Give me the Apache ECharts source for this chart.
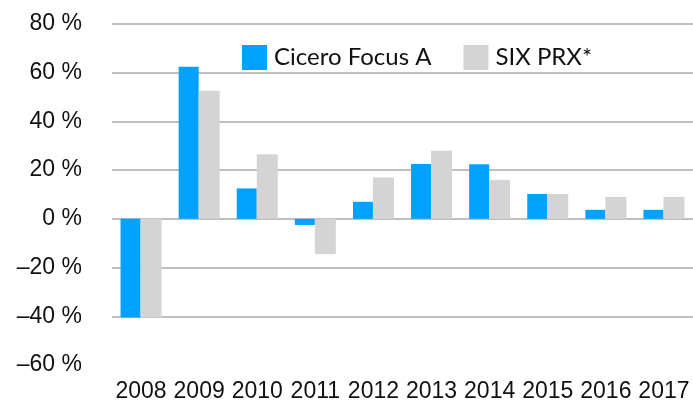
<!DOCTYPE html>
<html>
<head>
<meta charset="utf-8">
<script src="https://cdn.jsdelivr.net/npm/echarts@6/dist/echarts.min.js"></script>
<style>
  html, body { margin: 0; padding: 0; background: #fff; }
  #chart { width: 693px; height: 403px; }
</style>
</head>
<body>
<div id="chart"></div>
<script>
var years = ['2008', '2009', '2010', '2011', '2012', '2013', '2014', '2015', '2016', '2017'];
var cicero = [-40.5, 62.4, 12.5, -2.5, 7, 22.5, 22.4, 10.2, 3.7, 3.7];
var sixPrx = [-40.5, 52.6, 26.5, -14.5, 17, 28, 16, 10.2, 9, 9];

var myChart = echarts.init(document.getElementById('chart'));

var options = {
    animation: false,
    grid: { left: 112, right: 0, top: 24, bottom: 33 },
    legend: {
        top: 40,
        left: 237,
        itemWidth: 25,
        itemHeight: 25,
        itemGap: 32,
        icon: 'rect',
        textStyle: { fontFamily: 'Lato', fontSize: 24, color: '#111', padding: [0, 0, 0, 2] },
        data: ['Cicero Focus A', 'SIX PRX*']
    },
    xAxis: {
        type: 'category',
        data: years,
        axisLine: { show: false, onZero: false },
        axisTick: { show: false },
        axisLabel: { fontFamily: 'Liberation Sans', fontSize: 23, color: '#111', margin: 15, interval: 0 }
    },
    yAxis: {
        type: 'value',
        min: -60,
        max: 80,
        interval: 20,
        axisLine: { show: false },
        axisTick: { show: false },
        axisLabel: {
            fontFamily: 'Liberation Sans', fontSize: 23, color: '#111', margin: 30,
            formatter: function (v) { return (v < 0 ? '\u2013' + (-v) : v) + ' %'; }
        },
        splitLine: { showMinLine: false, lineStyle: { color: '#bfbfbf', width: 2 } }
    },
    series: [
        { name: 'Cicero Focus A', type: 'bar', data: cicero, barWidth: 20, barGap: 0, itemStyle: { color: '#00a2ff' } },
        { name: 'SIX PRX*', type: 'bar', data: sixPrx, barWidth: 21, itemStyle: { color: '#d4d4d4' } }
    ]
};

myChart.setOption(options);
</script>
</body>
</html>
